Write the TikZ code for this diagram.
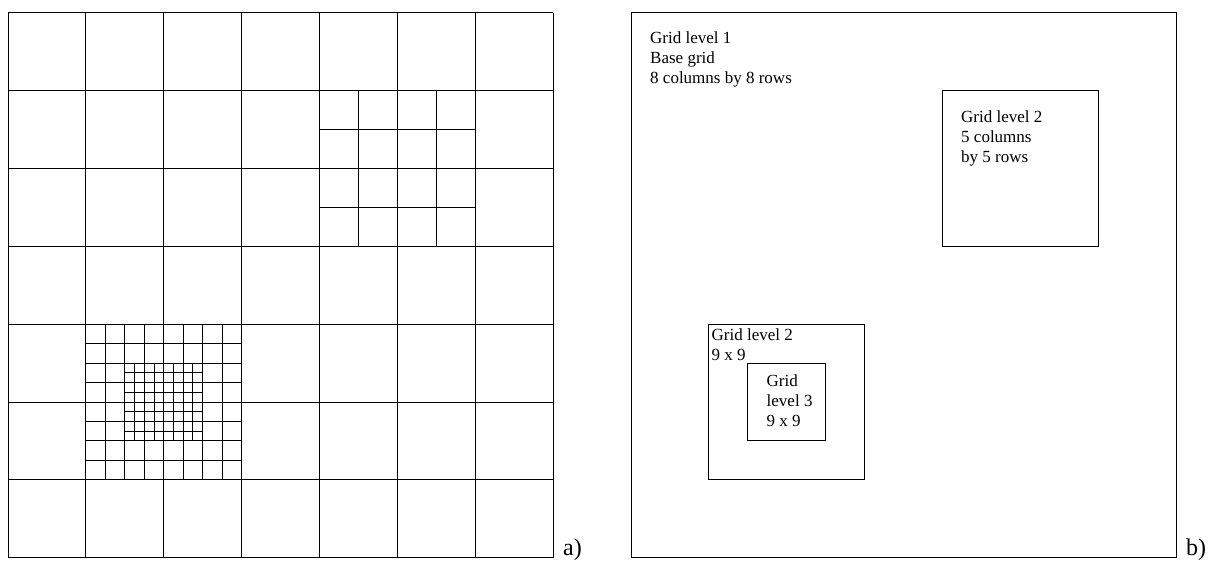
\documentclass[tikz,border=0pt]{standalone}
\usepackage{fontspec}
\setmainfont{Liberation Serif}
\begin{document}
\begin{tikzpicture}[x=1pt,y=-1pt,
  gridline/.style={line width=0.9pt, black},
  boxline/.style={line width=0.9pt, black},
  lbl/.style={anchor=north west, inner sep=0pt, font=\fontsize{17}{20}\selectfont, align=left},
  panellbl/.style={anchor=base west, inner sep=0pt, font=\fontsize{24}{28}\selectfont}]
\useasboundingbox (0,0) rectangle (1217,561);
\pgfmathsetmacro{\cs}{545/7}
\pgfmathsetmacro{\ms}{\cs/4}
% ---------- panel a: base grid ----------
\foreach \i in {0,...,7} {
  \draw[gridline] ({8+\i*\cs},12.7) -- ({8+\i*\cs},557.7);
  \draw[gridline] (8,{12.7+\i*\cs}) -- (553,{12.7+\i*\cs});
}
% refined region upper right (2x2 coarse cells split in halves)
\foreach \k in {1,3} {
  \draw[gridline] ({8+4*\cs+\k*\cs/2},{12.7+\cs}) -- ({8+4*\cs+\k*\cs/2},{12.7+3*\cs});
  \draw[gridline] ({8+4*\cs},{12.7+\cs+\k*\cs/2}) -- ({8+6*\cs},{12.7+\cs+\k*\cs/2});
}
% refined region lower left (level 2: 8x8)
\foreach \k in {1,...,7} {
  \draw[gridline] ({8+\cs+\k*\ms},{12.7+4*\cs}) -- ({8+\cs+\k*\ms},{12.7+6*\cs});
  \draw[gridline] ({8+\cs},{12.7+4*\cs+\k*\ms}) -- ({8+3*\cs},{12.7+4*\cs+\k*\ms});
}
% level 3: inner 4x4 medium cells halved
\foreach \k in {1,3,5,7} {
  \draw[gridline] ({8+\cs+2*\ms+\k*\ms/2},{12.7+4*\cs+2*\ms}) -- ({8+\cs+2*\ms+\k*\ms/2},{12.7+4*\cs+6*\ms});
  \draw[gridline] ({8+\cs+2*\ms},{12.7+4*\cs+2*\ms+\k*\ms/2}) -- ({8+\cs+6*\ms},{12.7+4*\cs+2*\ms+\k*\ms/2});
}
\node[panellbl] (la) at (563,555) {a)};
% ---------- panel b ----------
\draw[boxline] (631,12.7) rectangle (1176,557.3);
\node[lbl] (t1) at (650,31.5) {Grid level 1\\Base grid\\8 columns by 8 rows};
\draw[boxline] ({631+4*\cs},{12.7+\cs}) rectangle ({631+6*\cs},{12.7+3*\cs});
\node[lbl] (t2) at (961,110.5) {Grid level 2\\5 columns\\by 5 rows};
\draw[boxline] ({631+\cs},{12.7+4*\cs}) rectangle ({631+3*\cs},{12.7+6*\cs});
\node[lbl] (t3) at (711.5,328.5) {Grid level 2\\9 x 9};
\draw[boxline] ({631+\cs+2*\ms},{12.7+4*\cs+2*\ms}) rectangle ({631+\cs+6*\ms},{12.7+4*\cs+6*\ms});
\node[lbl] (t4) at (766.5,375) {Grid\\level 3\\9 x 9};
\node[panellbl] (lb) at (1186,555) {b)};
\end{tikzpicture}
\end{document}
